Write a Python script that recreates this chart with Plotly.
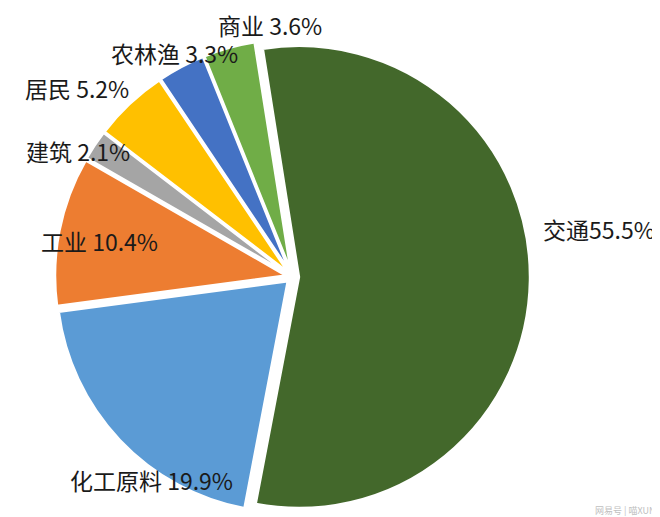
import plotly.graph_objects as go

categories = ["交通", "化工原料", "工业", "建筑", "居民", "农林渔", "商业"]
shares = [55.5, 19.9, 10.4, 2.1, 5.2, 3.3, 3.6]
colors = ["#43682B", "#5B9BD5", "#ED7D31", "#A5A5A5", "#FFC000", "#4472C4", "#70AD47"]
label_texts = ["交通55.5%", "化工原料 19.9%", "工业 10.4%", "建筑 2.1%", "居民 5.2%", "农林渔 3.3%", "商业 3.6%"]
# label centres in pixels (x, y from top-left) of the 660x517 canvas
label_pos = [(591, 221), (143, 472), (91, 233), (70, 143), (69, 80), (166, 45), (262, 17)]

W, H = 660, 517

fig = go.Figure(go.Pie(
    labels=categories,
    values=shares,
    sort=False,
    direction="clockwise",
    rotation=-9,
    pull=0.028,
    marker=dict(colors=colors, line=dict(color="white", width=2.5)),
    textinfo="none",
    hoverinfo="label+percent",
    showlegend=False,
    automargin=False,
    domain=dict(x=[0.041, 0.821], y=[0.0205, 0.9395]),
))

for txt, (px, py) in zip(label_texts, label_pos):
    fig.add_annotation(text=txt, x=px / W, y=1 - py / H, xref="paper", yref="paper",
                       xanchor="center", yanchor="middle", showarrow=False,
                       font=dict(family="Noto Sans CJK SC", size=23, color="#1a1a1a"))

fig.add_annotation(text="网易号 | 喵XUN", x=0.985, y=0.012, xref="paper", yref="paper",
                   xanchor="right", yanchor="bottom", showarrow=False,
                   font=dict(family="Noto Sans CJK SC", size=9, color="#c0c0c0"))

fig.update_layout(
    width=W, height=H,
    margin=dict(l=0, r=0, t=0, b=0),
    paper_bgcolor="white", plot_bgcolor="white",
)
fig.write_html("out.html")
